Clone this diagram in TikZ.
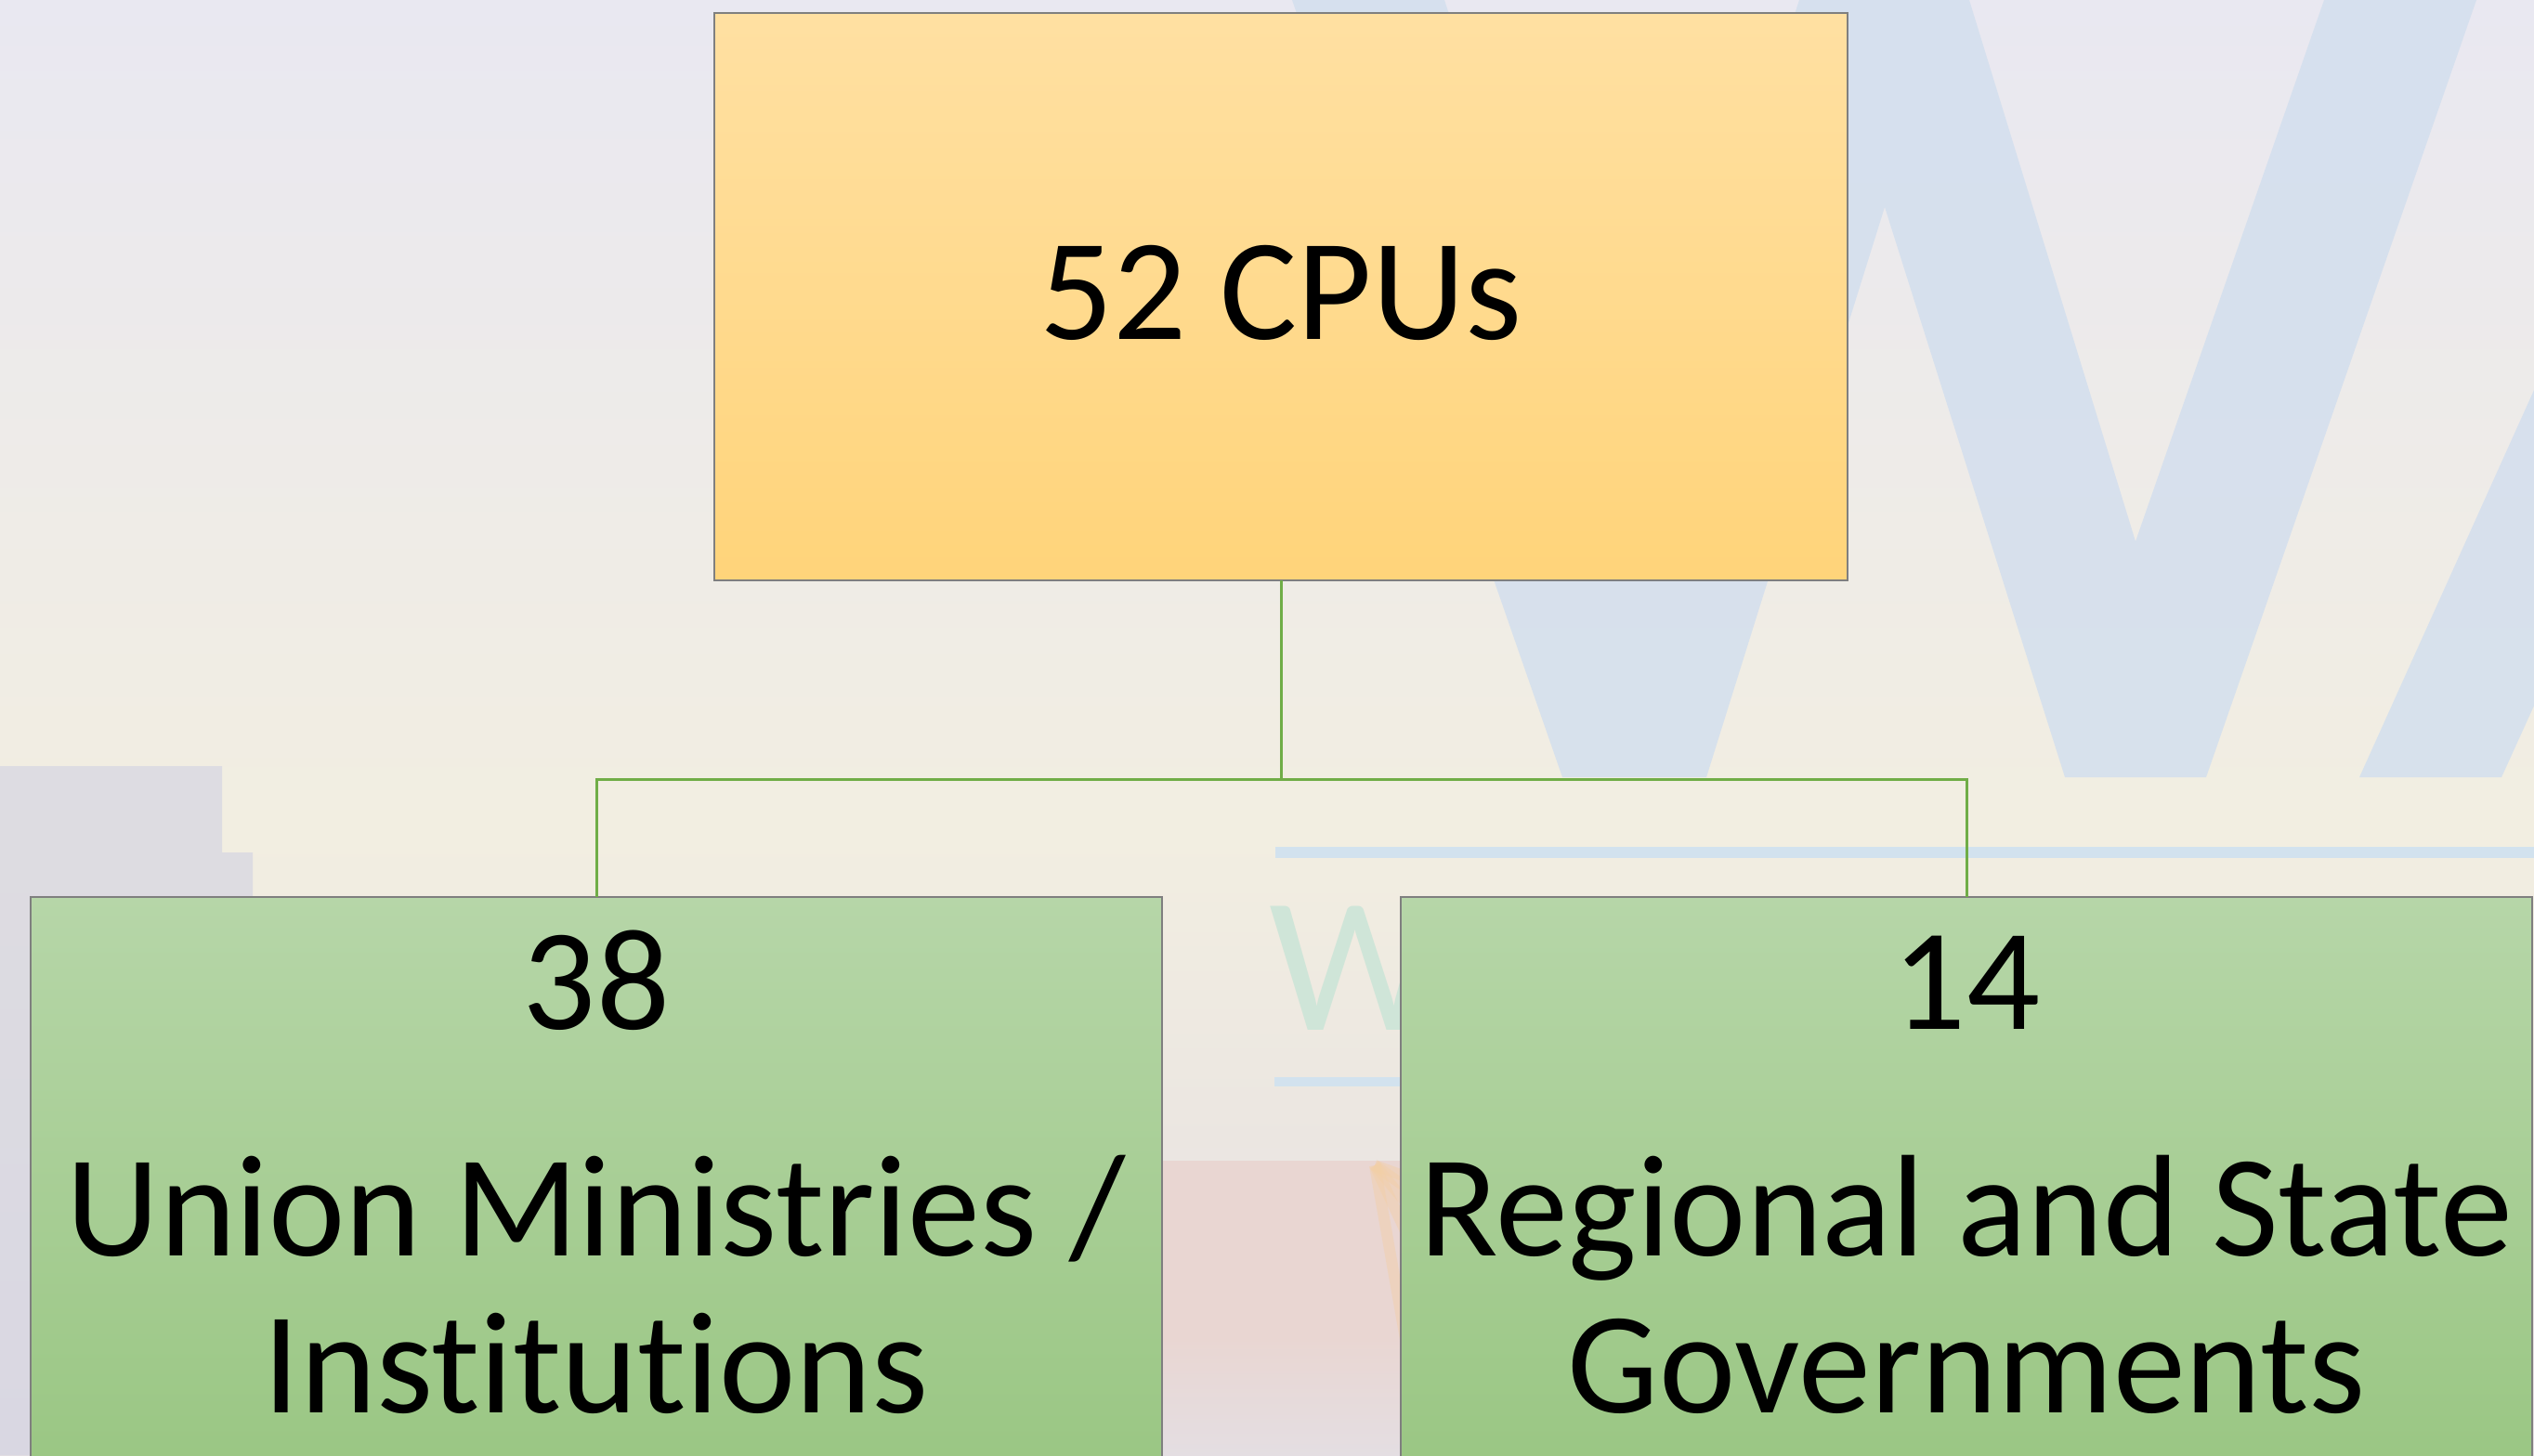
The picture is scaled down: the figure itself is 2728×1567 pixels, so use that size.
\documentclass[tikz,border=0pt]{standalone}
\usepackage{fontspec}
\setmainfont{Carlito}[Ligatures={NoCommon}]
\definecolor{bgtop}{HTML}{E9E8F1}
\definecolor{bgmid}{HTML}{F2EEE1}
\definecolor{bgbot}{HTML}{E4DEE2}
\definecolor{wblue}{HTML}{D3DFEE}
\definecolor{lineblue}{HTML}{D2E2EE}
\definecolor{orgtop}{HTML}{FFE0A2}
\definecolor{orgbot}{HTML}{FFD47A}
\definecolor{grntop}{HTML}{B6D6A8}
\definecolor{grnbot}{HTML}{99C682}
\definecolor{conngreen}{HTML}{70AD47}
\definecolor{boxborder}{HTML}{7F7F7F}
\definecolor{bldg}{HTML}{D5D5E2}
\definecolor{sunrose}{HTML}{E9D6D2}
\definecolor{sunray}{HTML}{F3CFA6}
\definecolor{logogreen}{HTML}{CFE5D8}
\begin{document}
\begin{tikzpicture}[x=0.25pt,y=-0.25pt,
  box/.style={rectangle, draw=boxborder, line width=0.4pt, inner sep=0pt, outer sep=0pt},
  topbox/.style={box, top color=orgtop, bottom color=orgbot, minimum width=305pt, minimum height=152.75pt},
  childbox/.style={box, top color=grntop, bottom color=grnbot, minimum width=304.5pt, minimum height=158.5pt},
  lbl/.style={inner sep=0pt, outer sep=0pt, anchor=base, text=black, font=\fontsize{39pt}{42.5pt}\selectfont},
  conn/.style={draw=conngreen, line width=0.75pt}
]
\useasboundingbox (0,0) rectangle (2728,1567);
\clip (0,0) rectangle (2728,1567);
% background
\shade[top color=bgtop, bottom color=bgmid] (0,0) rectangle (2728,900);
\shade[top color=bgmid, bottom color=bgbot] (0,899) rectangle (2728,1567);
% watermark W
\fill[wblue, opacity=0.85] (1391,0) -- (1555,0) -- (1746,583) -- (1937,0) -- (2120,0) -- (2299,583)
  -- (2502,0) -- (2666,0) -- (2375,837) -- (2223,837) -- (2029,223) -- (1837,837) -- (1682,837) -- cycle;
\fill[wblue, opacity=0.85] (2540,837) -- (2728,420) -- (2728,760) -- (2693,837) -- cycle;
% faint lines and logo letter
\fill[lineblue] (1373,912) rectangle (2728,924);
\fill[lineblue] (1372,1160) rectangle (1510,1170);
\node[inner sep=0pt, anchor=base west, text=logogreen, font=\fontsize{52pt}{52pt}\selectfont] (logo) at (1366,1109) {W};
% building
\fill[bldg, opacity=0.7] (0,825) -- (239,825) -- (239,918) -- (272,918) -- (272,1567) -- (0,1567) -- cycle;
% sunset between the boxes
\fill[sunrose] (1251,1250) rectangle (1508,1440);
\shade[top color=sunrose, bottom color=bgbot] (1251,1440) rectangle (1508,1567);
\foreach \a in {200,215,230,245,260}{
  \draw[sunray, line width=3pt, opacity=0.45] (1480,1255) -- ++({-1000*cos(\a)},{-1000*sin(\a)});
}
% boxes
\node[topbox] (top) at (1379,319.5) {};
\node[childbox] (left) at (642,1283) {};
\node[childbox] (right) at (2117,1283) {};
% labels
\node[lbl] (t52) at (1379,365) {52 CPUs};
\node[lbl] (t38) at (642,1108) {38};
\node[lbl] (tunion1) at (642,1352) {Union Ministries /};
\node[lbl] (tunion2) at (642,1521) {Institutions};
\node[lbl] (t14) at (2117,1108) {14};
\node[lbl] (tregion1) at (2117,1352) {Regional and State};
\node[lbl] (tregion2) at (2117,1521) {Governments};
% connectors
\coordinate (bus) at (1379,839);
\draw[conn] (top.south) -- (bus);
\draw[conn] (bus) -| (left.north);
\draw[conn] (bus) -| (right.north);
\end{tikzpicture}
\end{document}
